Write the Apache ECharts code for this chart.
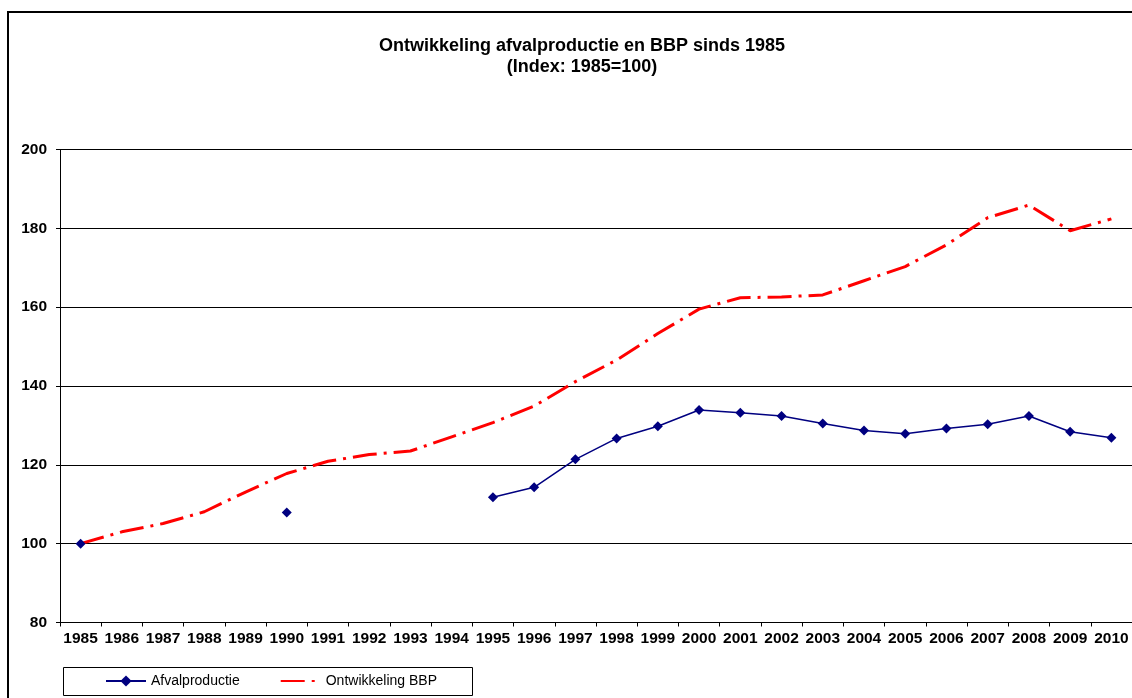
<!DOCTYPE html>
<html>
<head>
<meta charset="utf-8">
<script src="https://cdn.jsdelivr.net/npm/echarts@6/dist/echarts.min.js"></script>
<style>
  html, body { margin: 0; padding: 0; background: #fff; }
  #chart { width: 1132px; height: 698px; }
</style>
</head>
<body>
<div id="chart"></div>
<script>
// jaren en indexwaarden (1985 = 100)
var years = ['1985','1986','1987','1988','1989','1990','1991','1992','1993','1994','1995','1996','1997',
             '1998','1999','2000','2001','2002','2003','2004','2005','2006','2007','2008','2009','2010'];
var afvalproductie = [100, null, null, null, null, 107.9, null, null, null, null, 111.8, 114.3, 121.4,
                      126.7, 129.8, 133.9, 133.2, 132.4, 130.5, 128.7, 127.9, 129.2, 130.3, 132.4, 128.4, 126.9];
var bbp = [100, 103, 105.1, 108.1, 113.1, 117.8, 120.9, 122.6, 123.5, 127.1, 130.7, 134.9, 141.1,
           146.6, 153.3, 159.5, 162.4, 162.6, 163.1, 166.7, 170.3, 175.8, 182.7, 185.9, 179.4, 182.4];
var yTicks = [80, 100, 120, 140, 160, 180, 200];

var chart = echarts.init(document.getElementById('chart'));
chart.setOption({
  animation: false,
  textStyle: { fontFamily: 'Liberation Sans, Arial, sans-serif' },
  title: {
    text: 'Ontwikkeling afvalproductie en BBP sinds 1985\n(Index: 1985=100)',
    left: 577,
    top: 31,
    textAlign: 'center',
    textStyle: { fontSize: 18, fontWeight: 'bold', color: '#000', lineHeight: 21 }
  },
  graphic: [
    {
      type: 'rect',
      shape: { x: 8, y: 12, width: 1140, height: 700 },
      style: { fill: 'none', stroke: '#000', lineWidth: 2 },
      silent: true
    },
    {
      type: 'rect',
      shape: { x: 63.5, y: 667.5, width: 409, height: 28 },
      style: { fill: 'none', stroke: '#000', lineWidth: 1 },
      silent: true
    }
  ],
  legend: {
    left: 105,
    top: 674,
    padding: 0,
    itemGap: 40,
    itemWidth: 40,
    itemHeight: 14,
    textStyle: { fontSize: 14, color: '#000' },
    data: [
      'Afvalproductie',
      { name: 'Ontwikkeling BBP', itemStyle: { color: 'transparent', borderWidth: 0 } }
    ]
  },
  grid: { left: 60, right: 0, top: 149.5, bottom: 75.5 },
  xAxis: {
    type: 'category',
    data: years,
    boundaryGap: true,
    axisLine: { lineStyle: { color: '#000', width: 1 } },
    axisTick: { show: true, length: 4, interval: 0, lineStyle: { color: '#000' } },
    axisLabel: { interval: 0, fontSize: 15.5, fontWeight: 'bold', color: '#000', margin: 8 }
  },
  yAxis: {
    type: 'value',
    min: yTicks[0],
    max: yTicks[yTicks.length - 1],
    interval: 20,
    axisLine: { show: true, lineStyle: { color: '#000', width: 1 } },
    axisTick: { show: true, length: 4, lineStyle: { color: '#000' } },
    axisLabel: { fontSize: 15.5, fontWeight: 'bold', color: '#000', margin: 13 },
    splitLine: { show: true, lineStyle: { color: '#000', width: 1 } }
  },
  series: [
    {
      name: 'Afvalproductie',
      type: 'line',
      data: afvalproductie,
      connectNulls: false,
      symbol: 'diamond',
      symbolSize: 10,
      itemStyle: { color: '#000080' },
      lineStyle: { color: '#000080', width: 1.5 },
      z: 3
    },
    {
      name: 'Ontwikkeling BBP',
      type: 'line',
      data: bbp,
      showSymbol: false,
      symbol: 'none',
      itemStyle: { color: '#ff0000' },
      lineStyle: { color: '#ff0000', width: 3, type: [24, 7, 3, 7] },
      z: 2
    }
  ]
});
</script>
</body>
</html>
